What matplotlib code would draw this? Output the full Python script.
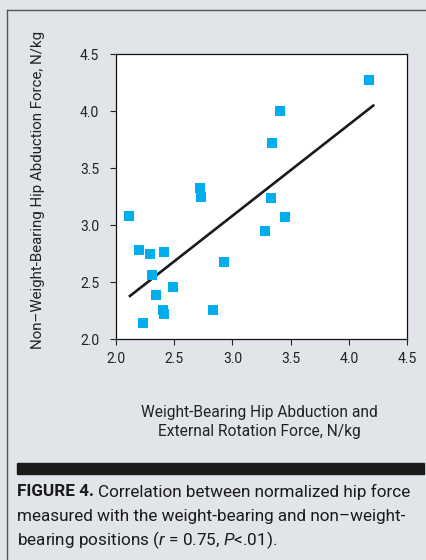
import matplotlib
matplotlib.use("Agg")
import matplotlib.pyplot as plt
from matplotlib.patches import Rectangle
from matplotlib.lines import Line2D

# data
wb_force = [4.17, 3.41, 3.34, 2.72, 2.73, 2.11, 3.33, 3.45, 3.28, 2.20,
            2.29, 2.41, 2.93, 2.31, 2.49, 2.34, 2.40, 2.41, 2.83, 2.23]
nwb_force = [4.27, 4.00, 3.72, 3.33, 3.25, 3.08, 3.24, 3.07, 2.95, 2.78,
             2.75, 2.77, 2.68, 2.56, 2.46, 2.39, 2.26, 2.22, 2.26, 2.14]
fit_x = [2.12, 4.21]
fit_y = [2.38, 4.05]
ticks = [2.0, 2.5, 3.0, 3.5, 4.0, 4.5]

bg = "#e1e4e8"
plt.rcParams['font.family'] = ["Roboto", "DejaVu Sans"]
plt.rcParams['mathtext.fontset'] = "custom"
plt.rcParams['mathtext.it'] = "Roboto:italic"
plt.rcParams['mathtext.rm'] = "Roboto"

fig = plt.figure(figsize=(4.26, 5.6), dpi=100, facecolor=bg)
ax = fig.add_axes([0.2723, 0.3941, 0.6831, 0.509])
ax.set_facecolor("white")

ax.scatter(wb_force, nwb_force, marker="s", s=46, color="#00aeef", zorder=3, linewidths=0)
ax.plot(fit_x, fit_y, color="#1a1a1a", linewidth=1.9, zorder=2)

ax.set_xlim(2.0, 4.5)
ax.set_ylim(2.0, 4.5)
ax.set_xticks(ticks)
ax.set_yticks(ticks)
ax.set_xticklabels(["%.1f" % t for t in ticks])
ax.set_yticklabels(["%.1f" % t for t in ticks])
ax.tick_params(direction="out", length=4, width=0.8, labelsize=10, colors="#222222", pad=5)
ax.tick_params(axis="y", pad=8)
for s in ax.spines.values():
    s.set_linewidth(0.9)
    s.set_color("#111111")

fig.text(0.608, 0.247, "Weight-Bearing Hip Abduction and\nExternal Rotation Force, N/kg",
         ha="center", va="center", fontsize=11.2, color="#222222", linespacing=1.35)
fig.text(0.089, 0.66, "Non\u2013Weight-Bearing Hip Abduction Force, N/kg", rotation=90,
         ha="center", va="center", fontsize=10.8, color="#222222")

# frame lines and black rule
fig.add_artist(Line2D([7 / 426, 7 / 426], [0, 1 - 10 / 560], transform=fig.transFigure,
                      color="#555555", linewidth=1.0))
fig.add_artist(Line2D([7 / 426, 1], [1 - 10 / 560, 1 - 10 / 560], transform=fig.transFigure,
                      color="#555555", linewidth=1.0))
fig.add_artist(Rectangle((17 / 426, 1 - 474 / 560), 407 / 426, 11 / 560,
                         transform=fig.transFigure, color="#1a1a1a"))

cap_x = 17 / 426
cap_size = 12.3
bold = fig.text(cap_x, 1 - 492 / 560, "FIGURE 4.", fontsize=cap_size, fontweight="bold",
                va="center", color="#1a1a1a")
renderer = fig.canvas.get_renderer()
bb = bold.get_window_extent(renderer)
fig.text(bb.x1 / fig.bbox.width + 4 / 426, 1 - 492 / 560, "Correlation between normalized hip force",
         fontsize=cap_size, va="center", color="#1a1a1a")
fig.text(cap_x, 1 - 516 / 560, "measured with the weight-bearing and non\u2013weight-",
         fontsize=cap_size, va="center", color="#1a1a1a")
fig.text(cap_x, 1 - 540 / 560, "bearing positions ($\\it{r}$ = 0.75, $\\it{P}$<.01).",
         fontsize=cap_size, va="center", color="#1a1a1a")

fig.savefig("out.png", dpi=100, facecolor=bg)
